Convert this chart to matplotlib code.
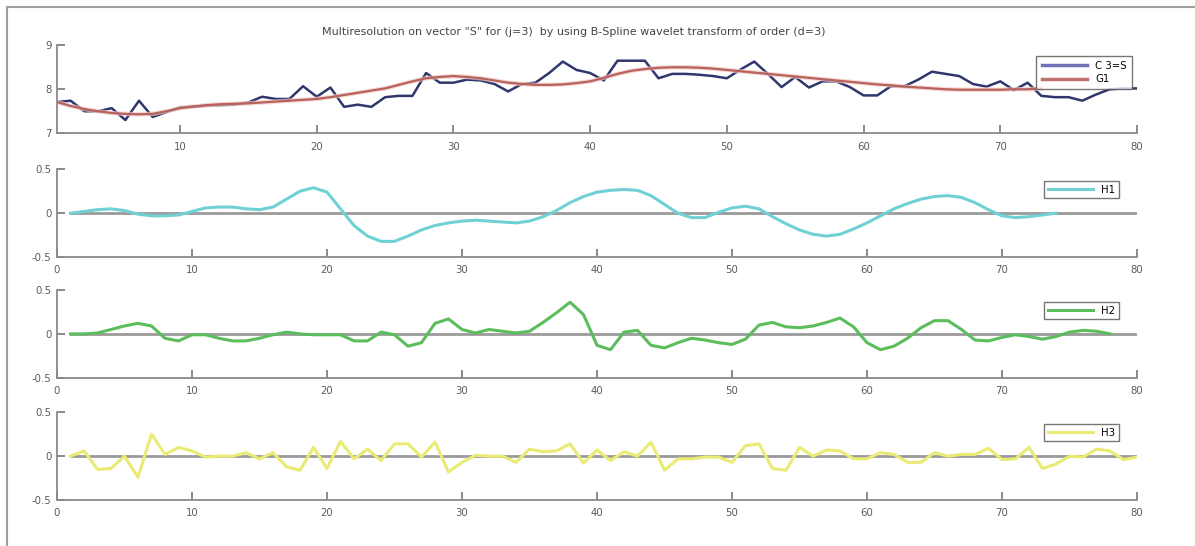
import numpy as np
import matplotlib
matplotlib.use('Agg')
import matplotlib.pyplot as plt
from matplotlib.lines import Line2D

# values
c3 = [7.71, 7.74, 7.5, 7.5, 7.57, 7.3, 7.74, 7.37, 7.48, 7.59,
      7.6, 7.63, 7.64, 7.65, 7.7, 7.83, 7.78, 7.78, 8.07, 7.83,
      8.04, 7.6, 7.65, 7.6, 7.82, 7.85, 7.85, 8.37, 8.15, 8.15,
      8.22, 8.2, 8.12, 7.95, 8.12, 8.15, 8.37, 8.63, 8.44, 8.37,
      8.2, 8.65, 8.65, 8.65, 8.25, 8.35, 8.35, 8.33, 8.3, 8.25,
      8.45, 8.63, 8.35, 8.05, 8.28, 8.04, 8.18, 8.18, 8.05, 7.86,
      7.86, 8.07, 8.07, 8.22, 8.4, 8.35, 8.3, 8.12, 8.06, 8.18,
      7.98, 8.15, 7.85, 7.82, 7.82, 7.74, 7.88, 8.0, 8.02, 8.02]

g1 = [7.71, 7.62, 7.55, 7.5, 7.46, 7.44, 7.43, 7.44, 7.5, 7.57,
      7.61, 7.64, 7.66, 7.67, 7.68, 7.7, 7.72, 7.74, 7.76, 7.78,
      7.82, 7.87, 7.92, 7.97, 8.02, 8.1, 8.18, 8.25, 8.28, 8.3,
      8.28, 8.25, 8.2, 8.15, 8.12, 8.1, 8.1, 8.11, 8.14, 8.18,
      8.26, 8.35, 8.42, 8.46, 8.49, 8.5, 8.5, 8.49, 8.47, 8.44,
      8.41, 8.38, 8.35, 8.32, 8.29, 8.26, 8.23, 8.2, 8.17, 8.14,
      8.11, 8.09, 8.06, 8.04, 8.02, 8.0, 7.99, 7.99, 7.99, 7.99,
      8.0, 8.0, 8.02]

h1 = [0.0, 0.02, 0.04, 0.05, 0.03, -0.01, -0.03, -0.03, -0.02, 0.02,
      0.06, 0.07, 0.07, 0.05, 0.04, 0.07, 0.16, 0.25, 0.29, 0.24,
      0.05, -0.14, -0.26, -0.32, -0.32, -0.26, -0.19, -0.14, -0.11, -0.09,
      -0.08, -0.09, -0.1, -0.11, -0.09, -0.04, 0.03, 0.12, 0.19, 0.24,
      0.26, 0.27, 0.26, 0.2, 0.1, 0.0, -0.05, -0.05, 0.01, 0.06,
      0.08, 0.05, -0.04, -0.12, -0.19, -0.24, -0.26, -0.24, -0.18, -0.11,
      -0.03, 0.05, 0.11, 0.16, 0.19, 0.2, 0.18, 0.12, 0.04, -0.03,
      -0.05, -0.04, -0.02, 0.0]

h2 = [0.0, 0.0, 0.01, 0.05, 0.09, 0.12, 0.09, -0.05, -0.08, -0.01,
      -0.01, -0.05, -0.08, -0.08, -0.05, -0.01, 0.02, 0.0, -0.01, -0.01,
      -0.01, -0.08, -0.08, 0.02, -0.01, -0.14, -0.1, 0.12, 0.17, 0.05,
      0.01, 0.05, 0.03, 0.01, 0.03, 0.13, 0.24, 0.36, 0.22, -0.13,
      -0.18, 0.02, 0.04, -0.13, -0.16, -0.1, -0.05, -0.07, -0.1, -0.12,
      -0.06, 0.1, 0.13, 0.08, 0.07, 0.09, 0.13, 0.18, 0.08, -0.1,
      -0.18, -0.14, -0.05, 0.07, 0.15, 0.15, 0.05, -0.07, -0.08, -0.04,
      -0.01, -0.03, -0.06, -0.03, 0.02, 0.04, 0.03, 0.0]

h3 = [0.0, 0.06, -0.15, -0.14, 0.0, -0.24, 0.25, 0.02, 0.1, 0.06,
      -0.01, 0.0, 0.0, 0.04, -0.03, 0.04, -0.12, -0.16, 0.1, -0.14,
      0.17, -0.03, 0.08, -0.05, 0.14, 0.14, -0.01, 0.16, -0.18, -0.07,
      0.01, 0.0, 0.0, -0.07, 0.08, 0.05, 0.06, 0.14, -0.08, 0.07,
      -0.05, 0.05, 0.0, 0.16, -0.16, -0.03, -0.03, -0.01, -0.01, -0.07,
      0.12, 0.14, -0.14, -0.16, 0.1, 0.0, 0.07, 0.06, -0.03, -0.03,
      0.04, 0.02, -0.07, -0.07, 0.04, 0.0, 0.02, 0.02, 0.09, -0.04,
      -0.03, 0.1, -0.14, -0.09, 0.0, -0.01, 0.08, 0.06, -0.04, -0.01]

title = 'Multiresolution on vector "S" for (j=3)  by using B-Spline wavelet transform of order (d=3)'

fig = plt.figure(figsize=(11.95, 5.46), dpi=100)

# outer frame of the screenshot (left and top edge)
fig.add_artist(Line2D([7/1195, 7/1195], [0, 1 - 7/546], color='#a0a0a0', lw=1.5))
fig.add_artist(Line2D([7/1195, 1], [1 - 7/546, 1 - 7/546], color='#a0a0a0', lw=1.5))

left, width, height = 57/1195, 1080/1195, 0.161
bottoms = [0.756, 0.529, 0.308, 0.084]
axes = [fig.add_axes([left, b, width, height]) for b in bottoms]

def style(ax):
    for s in ['top', 'right']:
        ax.spines[s].set_visible(False)
    for s in ['left', 'bottom']:
        ax.spines[s].set_color('#8a8a8a')
        ax.spines[s].set_linewidth(1.3)
    ax.tick_params(direction='in', length=6, width=1.2, color='#777777',
                   labelsize=7.3, labelcolor='#5a5a5a')
    ax.tick_params(axis='x', pad=6)
    ax.tick_params(axis='y', pad=4)

# top panel
ax = axes[0]
ax.plot(np.arange(1, len(c3) + 1), c3, color='#2f376d', lw=1.8, label='C 3=S')
ax.plot(np.arange(1, len(g1) + 1), g1, color='#f0c8c4', lw=3.2, alpha=0.7)
ax.plot(np.arange(1, len(g1) + 1), g1, color='#b8625d', lw=1.6, label='G1')
ax.set_xlim(1, 80)
ax.set_ylim(7, 9)
ax.set_xticks(range(10, 81, 10))
ax.set_yticks([7, 8, 9])
style(ax)
handles = [Line2D([], [], color='#6e74b6', lw=2.5), Line2D([], [], color='#c0736e', lw=2.5)]
ax.legend(handles, ['C 3=S', 'G1'], loc='upper right', bbox_to_anchor=(1.0, 0.94),
          fontsize=7.3, frameon=True, fancybox=False, edgecolor='#555555',
          handlelength=4.5, borderpad=0.5, labelspacing=0.35)

# detail panels
details = [(h1, '#6fd1d4', 'H1'), (h2, '#5cbd5c', 'H2'), (h3, '#e9eb74', 'H3')]
for ax, (vals, col, name) in zip(axes[1:], details):
    ax.plot([1, 80], [0, 0], color='#9a9a9a', lw=2.0)
    ax.plot(np.arange(1, len(vals) + 1), vals, color=col, lw=2.2, label=name)
    ax.set_xlim(0, 80)
    ax.set_ylim(-0.5, 0.5)
    ax.set_xticks(range(0, 81, 10))
    ax.set_yticks([-0.5, 0, 0.5])
    ax.set_yticklabels(['-0.5', '0', '0.5'])
    style(ax)
    ax.legend(loc='upper right', bbox_to_anchor=(0.988, 0.92), fontsize=7.3,
              frameon=True, fancybox=False, edgecolor='#555555',
              handlelength=4.5, borderpad=0.35)

fig.text(574/1195, 1 - 32/546, title, ha='center', va='center', fontsize=8, color='#444444')

fig.savefig('out.png', dpi=100, facecolor='white')
